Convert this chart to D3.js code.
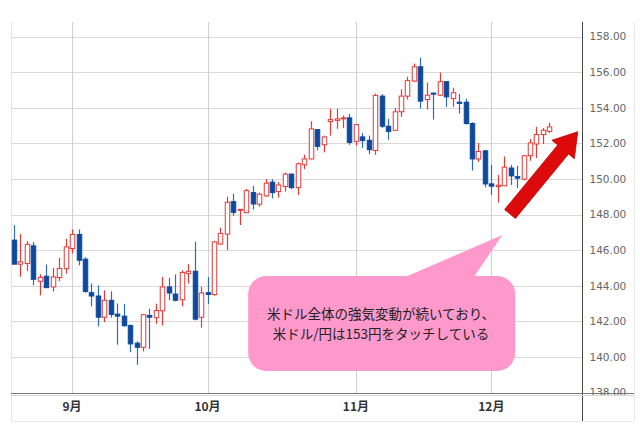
<!DOCTYPE html>
<html><head><meta charset="utf-8">
<script src="https://cdn.jsdelivr.net/npm/d3@7"></script>
<style>html,body{margin:0;padding:0;background:#fff;}svg{display:block;}</style>
</head><body>
<svg id="chart" width="640" height="442"></svg>
<script>
// ---- data (USD/JPY daily candles) ----
const dates = ["2024-08-20","2024-08-21","2024-08-22","2024-08-23","2024-08-26","2024-08-27","2024-08-28","2024-08-29","2024-08-30",
"2024-09-02","2024-09-03","2024-09-04","2024-09-05","2024-09-06","2024-09-09","2024-09-10","2024-09-11","2024-09-12","2024-09-13","2024-09-16","2024-09-17","2024-09-18","2024-09-19","2024-09-20","2024-09-23","2024-09-24","2024-09-25","2024-09-26","2024-09-27","2024-09-30",
"2024-10-01","2024-10-02","2024-10-03","2024-10-04","2024-10-07","2024-10-08","2024-10-09","2024-10-10","2024-10-11","2024-10-14","2024-10-15","2024-10-16","2024-10-17","2024-10-18","2024-10-21","2024-10-22","2024-10-23","2024-10-24","2024-10-25","2024-10-28","2024-10-29","2024-10-30","2024-10-31",
"2024-11-01","2024-11-04","2024-11-05","2024-11-06","2024-11-07","2024-11-08","2024-11-11","2024-11-12","2024-11-13","2024-11-14","2024-11-15","2024-11-18","2024-11-19","2024-11-20","2024-11-21","2024-11-22","2024-11-25","2024-11-26","2024-11-27","2024-11-28","2024-11-29",
"2024-12-02","2024-12-03","2024-12-04","2024-12-05","2024-12-06","2024-12-09","2024-12-10","2024-12-11","2024-12-12","2024-12-13"];
const open  = [146.56,145.21,145.25,146.24,144.25,144.53,143.93,144.46,144.96,
146.09,146.88,145.49,143.61,143.42,142.23,143.18,142.40,142.29,141.76,140.77,140.54,142.33,142.20,142.59,143.93,143.53,143.21,144.68,144.81,142.23,
143.61,143.50,146.34,146.90,148.72,148.24,148.10,149.23,148.58,149.04,149.82,149.29,149.57,150.27,149.51,150.79,151.12,152.77,151.92,153.22,153.29,153.39,153.43,
152.11,152.36,152.17,151.60,154.65,152.96,152.73,153.77,154.65,155.50,156.30,154.46,154.82,154.70,155.46,154.52,154.31,154.31,153.11,151.12,151.58,
149.72,149.57,149.61,150.61,150.13,149.99,151.30,151.96,152.49,152.67];
const high  = [147.40,146.90,146.50,146.46,144.64,145.19,145.00,145.56,146.63,
147.16,147.16,145.60,144.12,144.02,143.74,143.68,143.00,142.97,141.82,140.88,142.40,142.71,142.99,144.49,144.43,144.63,144.87,145.21,146.46,143.93,
144.49,146.52,147.26,149.00,149.16,148.30,149.44,149.61,149.23,149.99,149.99,149.82,150.36,150.30,150.92,151.36,153.24,152.80,152.43,153.94,153.94,153.56,153.65,
153.10,152.58,152.43,154.80,154.76,153.37,153.99,155.03,155.74,156.48,156.81,155.41,154.85,155.97,155.50,155.12,154.78,154.50,153.18,152.02,151.60,
150.79,150.23,151.26,150.79,150.74,151.35,152.24,152.92,152.86,153.15];
const low   = [145.20,144.50,144.83,144.02,143.46,143.89,143.67,144.25,144.68,
145.81,145.15,143.60,142.84,141.71,141.95,142.20,140.69,141.70,140.26,139.56,140.31,140.45,141.86,141.76,143.18,143.12,142.85,144.12,142.05,141.64,
142.97,143.44,146.30,146.00,147.93,147.41,148.10,148.29,148.44,149.00,148.91,148.95,149.29,149.42,149.10,150.55,151.10,151.60,151.49,152.43,152.81,152.86,151.92,
151.87,151.74,151.40,151.36,152.86,152.20,152.70,153.49,154.46,155.45,153.95,153.90,153.33,154.65,154.05,154.05,153.67,153.05,150.47,150.95,149.53,
149.10,148.67,149.60,149.66,149.48,149.91,151.02,151.17,151.96,152.58];
const close = [145.21,145.34,146.32,144.36,144.47,143.89,144.49,144.96,146.18,
146.88,145.43,143.68,143.42,142.23,143.18,142.39,142.29,141.75,140.73,140.54,142.37,142.23,142.61,143.93,143.59,143.18,144.74,144.81,142.12,143.59,
143.51,146.46,146.94,148.69,148.12,148.29,149.34,148.59,149.14,149.76,149.23,149.66,150.27,149.51,150.85,151.12,152.81,151.83,152.36,153.33,153.37,153.43,152.05,
153.05,152.15,151.64,154.69,152.96,152.67,153.77,154.65,155.52,156.30,154.37,154.70,154.76,155.46,154.61,154.84,154.24,153.11,151.12,151.54,149.72,
149.59,149.65,150.66,150.17,150.04,151.30,152.02,152.49,152.73,152.92];
const monthTickDates = ["2024-09-02","2024-10-01","2024-11-01","2024-12-02"];
const monthTickLabels = ["9月","10月","11月","12月"];
const yTicks = [138,140,142,144,146,148,150,152,154,156,158];
const calloutLines = ["米ドル全体の強気変動が続いており、","米ドル/円は153円をタッチしている"];

// ---- layout ----
const svg = d3.select("#chart");
const frame = {left: 11, right: 634, top: 22, bottom: 421};
const axisX = 582.5, axisY = 393.5;

const x = d3.scaleBand().domain(dates).range([10.8, 10.8 + dates.length * 6.45]).paddingInner(0.3).paddingOuter(0.15);
const cx = d => x(d) + x.bandwidth() / 2;
const step = x.step();
const xi = i => cx(dates[0]) + i * step; // fractional index position for annotations
const y = d3.scaleLinear().domain([138, 158]).range([392.5, 36.5]);

// frame
const g0 = svg.append("g");
g0.append("line").attr("x1", frame.left + .5).attr("x2", frame.left + .5).attr("y1", frame.top).attr("y2", frame.bottom).attr("stroke", "#e4e4e4");
g0.append("line").attr("x1", frame.right + .5).attr("x2", frame.right + .5).attr("y1", frame.top).attr("y2", frame.bottom).attr("stroke", "#e8e8e8");
g0.append("line").attr("x1", frame.left).attr("x2", frame.right).attr("y1", frame.bottom + .5).attr("y2", frame.bottom + .5).attr("stroke", "#e8e8e8");

// horizontal gridlines
svg.append("g").selectAll("line").data(yTicks.slice(1)).join("line")
  .attr("x1", frame.left).attr("x2", axisX)
  .attr("y1", d => Math.round(y(d)) + .5).attr("y2", d => Math.round(y(d)) + .5)
  .attr("stroke", "#d9d9d9");
// vertical gridlines
svg.append("g").selectAll("line").data(monthTickDates).join("line")
  .attr("x1", d => Math.round(cx(d)) + .5).attr("x2", d => Math.round(cx(d)) + .5)
  .attr("y1", frame.top).attr("y2", axisY)
  .attr("stroke", "#d0d0d0");

// y axis (right)
const yAxis = d3.axisRight(y).tickValues(yTicks).tickFormat(d3.format(".2f")).tickSize(0).tickPadding(7);
const ya = svg.append("g").attr("transform", `translate(${axisX},0)`).call(yAxis);
ya.select(".domain").remove();
ya.selectAll("text").attr("fill", "#666").attr("font-family", "'DejaVu Sans', Tahoma, sans-serif").attr("font-size", 10.5);
svg.append("line").attr("x1", axisX).attr("x2", axisX).attr("y1", frame.top).attr("y2", frame.bottom).attr("stroke", "#444");

// x axis (bottom)
svg.append("line").attr("x1", frame.left).attr("x2", frame.right).attr("y1", axisY).attr("y2", axisY).attr("stroke", "#777");
svg.append("line").attr("x1", frame.left).attr("x2", frame.right).attr("y1", axisY + 2).attr("y2", axisY + 2).attr("stroke", "#d8d8d8");
const xAxis = d3.axisBottom(x).tickValues(monthTickDates).tickFormat((d, i) => monthTickLabels[i]).tickSize(0).tickPadding(9);
const xa = svg.append("g").attr("transform", `translate(0,${axisY})`).call(xAxis);
xa.select(".domain").remove();
xa.selectAll("text").attr("fill", "#333").attr("font-family", "'Noto Sans CJK JP', sans-serif").attr("font-size", 12).attr("font-weight", 600);

// candles
const candles = dates.map((d, i) => ({d, o: open[i], h: high[i], l: low[i], c: close[i]}));
const up = "#e53935", down = "#0d4a9e", downWick = "#2f6db3";
const cg = svg.append("g");
cg.selectAll("line").data(candles).join("line")
  .attr("x1", d => Math.round(cx(d.d)) + .5).attr("x2", d => Math.round(cx(d.d)) + .5)
  .attr("y1", d => y(d.h)).attr("y2", d => y(d.l))
  .attr("stroke", d => d.c >= d.o ? up : downWick).attr("stroke-width", 1.2);
cg.selectAll("rect").data(candles).join("rect")
  .attr("x", d => Math.round(cx(d.d)) + .5 - x.bandwidth() / 2)
  .attr("width", x.bandwidth())
  .attr("y", d => y(Math.max(d.o, d.c)))
  .attr("height", d => Math.max(1, Math.abs(y(d.o) - y(d.c))))
  .attr("fill", d => d.c >= d.o ? "#fff" : down)
  .attr("stroke", d => d.c >= d.o ? up : down)
  .attr("stroke-width", 1);

// arrow annotation (anchored in data space)
const aFrom = [xi(76.9), y(148.03)], aTo = [xi(87.4), y(152.65)];
(function drawArrow(){
  const dx = aTo[0] - aFrom[0], dy = aTo[1] - aFrom[1];
  const len = Math.hypot(dx, dy), ux = dx / len, uy = dy / len, px = -uy, py = ux;
  const sw = 7, hw = 14.5, hl = 23;
  const bx = aTo[0] - ux * hl, by = aTo[1] - uy * hl;
  const pts = [
    [aFrom[0] + px * sw, aFrom[1] + py * sw],
    [bx + px * sw, by + py * sw],
    [bx + px * hw, by + py * hw],
    aTo,
    [bx - px * hw, by - py * hw],
    [bx - px * sw, by - py * sw],
    [aFrom[0] - px * sw, aFrom[1] - py * sw]
  ];
  svg.append("path").attr("d", d3.line()(pts) + "Z").attr("fill", "#dc0a0a").attr("stroke", "#c00000").attr("stroke-width", 0.8);
})();

// callout annotation
const box = {x0: xi(36.3), x1: xi(77.7), y0: y(144.54), y1: y(139.21)};
const tail = [[xi(60.3), box.y0 + 2], [xi(75.7), y(146.85)], [xi(71.2), box.y0 + 2]];
const pink = "#ff99cc";
svg.append("path").attr("d", d3.line()(tail) + "Z").attr("fill", pink);
svg.append("rect").attr("x", box.x0).attr("y", box.y0).attr("width", box.x1 - box.x0).attr("height", box.y1 - box.y0)
  .attr("rx", 18).attr("ry", 18).attr("fill", pink);
svg.append("g").selectAll("text").data(calloutLines).join("text")
  .attr("x", xi(56.9)).attr("y", (d, i) => y(142.35) + i * 20)
  .attr("text-anchor", "middle").attr("dominant-baseline", "middle")
  .attr("font-family", "'Noto Sans CJK JP', sans-serif").attr("font-size", 13.5).attr("fill", "#222")
  .text(d => d);
</script>
</body></html>
